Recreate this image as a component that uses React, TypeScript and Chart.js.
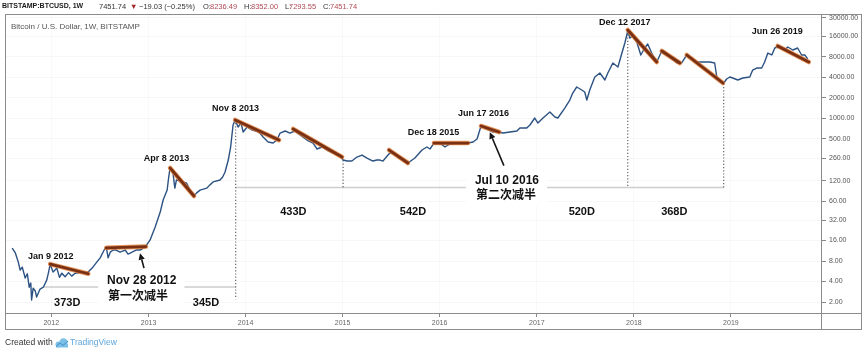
import React, { useEffect, useRef } from "react";
import { Chart, registerables } from "chart.js";

Chart.register(...registerables);

const FONT = '"Liberation Sans", Arial, "Noto Sans CJK SC", sans-serif';

// ---- weekly BTC/USD closes ----
const weeks: string[] = [
  "2011-08-07","2011-08-19","2011-08-30","2011-09-06","2011-09-14","2011-09-25","2011-10-03","2011-10-10",
  "2011-10-16","2011-10-19","2011-10-25","2011-11-02","2011-11-07","2011-11-15","2011-11-20","2011-12-02",
  "2011-12-15","2011-12-22","2011-12-28","2012-01-08","2012-01-22","2012-02-01","2012-02-10","2012-02-22",
  "2012-03-06","2012-03-18","2012-03-31","2012-04-19","2012-05-08","2012-05-19","2012-06-03","2012-06-18",
  "2012-07-03","2012-07-18","2012-07-26","2012-08-02","2012-08-10","2012-08-21","2012-09-01","2012-09-16",
  "2012-10-05","2012-10-16","2012-10-31","2012-11-15","2012-11-30","2012-12-19","2013-01-07","2013-01-26",
  "2013-02-14","2013-02-25","2013-03-12","2013-03-18","2013-03-23","2013-04-03","2013-04-10","2013-04-16",
  "2013-05-05","2013-05-24","2013-06-06","2013-06-21","2013-07-01","2013-07-14","2013-08-08","2013-08-20",
  "2013-09-01","2013-09-27","2013-10-07","2013-10-16","2013-10-28","2013-11-06","2013-11-15","2013-11-23",
  "2013-12-04","2013-12-15","2013-12-23","2014-01-07","2014-01-25","2014-02-10","2014-02-24","2014-03-08",
  "2014-03-27","2014-04-15","2014-04-29","2014-05-11","2014-05-30","2014-06-17","2014-07-06","2014-07-25",
  "2014-08-20","2014-09-12","2014-09-27","2014-10-16","2014-11-03","2014-11-26","2014-12-22","2015-01-03",
  "2015-01-18","2015-02-05","2015-02-24","2015-03-15","2015-04-03","2015-04-25","2015-05-10","2015-05-22",
  "2015-06-02","2015-06-25","2015-07-10","2015-07-24","2015-08-12","2015-08-25","2015-09-04","2015-09-30",
  "2015-10-27","2015-11-14","2015-11-26","2015-12-11","2016-01-02","2016-01-21","2016-02-09","2016-03-06",
  "2016-03-29","2016-04-17","2016-05-06","2016-05-21","2016-06-05","2016-06-27","2016-07-20","2016-08-12",
  "2016-08-27","2016-09-22","2016-10-18","2016-10-29","2016-11-24","2016-12-06","2016-12-24","2017-01-05",
  "2017-01-24","2017-02-19","2017-03-10","2017-03-21","2017-04-16","2017-05-05","2017-05-16","2017-05-31",
  "2017-06-19","2017-06-30","2017-07-08","2017-07-19","2017-08-07","2017-08-26","2017-09-14","2017-09-25",
  "2017-10-14","2017-11-02","2017-11-17","2017-11-28","2017-12-09","2017-12-17","2017-12-28","2018-01-12",
  "2018-01-27","2018-02-11","2018-02-22","2018-03-09","2018-03-28","2018-04-16","2018-04-27","2018-05-16",
  "2018-06-12","2018-06-30","2018-07-19","2018-08-07","2018-08-26","2018-09-14","2018-10-14","2018-11-01",
  "2018-11-09","2018-11-20","2018-12-05","2018-12-16","2018-12-28","2019-01-08","2019-01-27","2019-02-15",
  "2019-03-13","2019-03-24","2019-04-08","2019-04-27","2019-05-08","2019-05-20","2019-06-04","2019-06-15",
  "2019-06-26","2019-07-11","2019-07-22","2019-08-03","2019-08-22","2019-09-09","2019-09-24","2019-10-06",
  "2019-10-17"
];
const closes: number[] = [
  12.4, 10.5, 7.7, 5.9, 6.5, 4.5, 5.2, 3.3,
  3.8, 2.14, 3.2, 2.9, 2.37, 2.8, 3.1, 3.3,
  4.2, 5.5, 7.2, 5.5, 6.3, 4.6, 5.3, 4.7,
  5.4, 4.8, 5.3, 5.4, 5.5, 5.5, 6.3, 7.5,
  8.9, 11.6, 12.8, 8.9, 10.8, 11.6, 11.6, 10.8,
  11.6, 10.1, 10.8, 11.6, 11.6, 12.8, 16.3, 25.3,
  41.9, 63, 88, 137, 186, 157, 94, 124,
  116, 112, 88, 72, 80, 88, 94, 105,
  116, 124, 137, 162, 243, 378, 795, 941,
  743, 850, 627, 743, 671, 649, 606, 530,
  447, 432, 478, 606, 649, 606, 649, 566,
  478, 432, 353, 378, 341, 308, 288, 243,
  235, 235, 269, 288, 260, 235, 243, 243,
  235, 300, 319, 288, 255, 227, 220, 260,
  341, 378, 353, 432, 432, 378, 418, 432,
  432, 432, 447, 495, 768, 694, 627, 627,
  606, 627, 649, 718, 718, 795, 1007, 850,
  1007, 1233, 1041, 1007, 1411, 1850, 2344, 2873,
  2594, 2426, 1850, 2594, 4028, 4612, 3638, 4612,
  6468, 5647, 9064, 12714, 19087, 15060, 16116, 13154,
  8476, 10734, 12286, 9064, 6688, 9704, 9378, 7920,
  6468, 6468, 8476, 7654, 6688, 6688, 6688, 6468,
  4028, 3638, 3288, 3764, 4028, 3896, 3638, 3896,
  4028, 5102, 5460, 5460, 6688, 9064, 8476, 10734,
  11104, 10734, 10036, 11104, 10036, 10734, 8476, 8476,
  7451.74
];

// ---- brown trend lines ----
const trendStart: string[] = ["2011-12-28","2012-07-26","2013-03-23","2013-11-23","2014-06-29","2015-06-25","2015-12-11","2016-06-05","2017-12-09","2018-04-16","2018-07-19","2019-06-26"];
const trendStartPrice: number[] = [7.2, 12.5, 186, 941, 694, 341, 432, 768, 19733, 9704, 8476, 11490];
const trendEnd: string[] = ["2012-05-19","2012-12-22","2013-06-21","2014-05-07","2014-12-30","2015-09-04","2016-04-17","2016-08-12","2018-03-28","2018-06-23","2018-12-02","2019-10-21"];
const trendEndPrice: number[] = [5.2, 13.0, 72, 478, 269, 220, 432, 627, 6688, 6468, 3288, 6688];

// ---- dotted verticals and gray horizontal measures ----
const vLineDates: string[] = ["2013-11-25", "2015-01-03", "2017-12-09", "2018-12-05"];
const vLineTop: number[] = [850, 240, 19000, 3200];
const vLineBottom: number[] = [2.2, 96, 96, 96];
const hLineFrom: string[] = ["2011-12-02", "2013-11-25"];
const hLineTo: string[] = ["2013-11-25", "2018-12-05"];
const hLinePrice: number[] = [3.32, 96];

// ---- text annotations ----
const dateLabels: string[] = ["Jan 9 2012", "Apr 8 2013", "Nov 8 2013", "Dec 18 2015", "Jun 17 2016", "Dec 12 2017", "Jun 26 2019"];
const dateLabelAt: string[] = ["2011-12-30", "2013-03-10", "2013-11-24", "2015-12-09", "2016-06-14", "2017-11-28", "2019-06-24"];
const dateLabelPrice: number[] = [9.2, 260, 1365, 627, 1153, 25000, 18450];

const dayLabels: string[] = ["373D", "345D", "433D", "542D", "520D", "368D"];
const dayLabelAt: string[] = ["2012-03-01", "2013-08-05", "2014-06-30", "2015-09-23", "2017-06-19", "2018-06-02"];
const dayLabelPrice: number[] = [1.93, 1.93, 42, 42, 42, 42];

const halvingTitles: string[] = ["Nov 28 2012", "Jul 10 2016"];
const halvingSub: string[] = ["第一次减半", "第二次减半"];
const halvingAt: string[] = ["2012-07-29", "2016-05-13"];
const halvingTitlePrice: number[] = [4.07, 119.6];
const halvingSubPrice: number[] = [2.37, 72];

const arrowFrom: string[] = ["2012-12-15", "2016-08-30"];
const arrowFromPrice: number[] = [6.3, 201];
const arrowTo: string[] = ["2012-11-30", "2016-07-08"];
const arrowToPrice: number[] = [10.4, 621];

// ---- axes ----
const yearTicks: number[] = [2012, 2013, 2014, 2015, 2016, 2017, 2018, 2019];
const priceTicks: number[] = [2, 4, 8, 16, 32, 60, 120, 260, 500, 1000, 2000, 4000, 8000, 16000, 30000];
const X_MIN = "2011-07-11";
const X_MAX = "2019-12-06";
const Y_MIN = 1.38;
const Y_MAX = 32768;

const toT = (s: string) => Date.parse(s + "T00:00:00Z");

const segments = (from: string[], fromV: number[], to: string[], toV: number[]) =>
  from.flatMap((d, i) => [
    { x: toT(d), y: fromV[i] },
    { x: toT(to[i]), y: toV[i] },
    { x: toT(to[i]), y: null as any },
  ]);

const decor = {
  id: "decor",
  beforeDraw(chart: any) {
    const ctx = chart.ctx;
    ctx.save();
    ctx.fillStyle = "#ffffff";
    ctx.fillRect(0, 0, chart.width, chart.height);
    ctx.restore();
  },
  afterDatasetsDraw(chart: any) {
    const ctx = chart.ctx;
    const xs = chart.scales.x;
    const ys = chart.scales.y;
    const X = (d: string) => xs.getPixelForValue(toT(d));
    const Y = (v: number) => ys.getPixelForValue(v);
    ctx.save();

    // halving notes with white background
    ctx.font = `bold 12px ${FONT}`;
    ctx.textBaseline = "middle";
    ctx.textAlign = "left";
    halvingTitles.forEach((t, i) => {
      const left = X(halvingAt[i]);
      const y1 = Y(halvingTitlePrice[i]);
      const y2 = Y(halvingSubPrice[i]);
      const w = Math.max(ctx.measureText(t).width, ctx.measureText(halvingSub[i]).width);
      ctx.fillStyle = "#ffffff";
      ctx.fillRect(left - 9, y1 - 11, w + 17, y2 - y1 + 21);
      ctx.fillStyle = "#111111";
      ctx.fillText(t, left, y1);
      ctx.fillText(halvingSub[i], left + 1, y2);
    });

    // arrows
    ctx.strokeStyle = "#161616";
    ctx.fillStyle = "#161616";
    ctx.lineWidth = 1.6;
    arrowFrom.forEach((d, i) => {
      const x1 = X(d), y1 = Y(arrowFromPrice[i]);
      const x2 = X(arrowTo[i]), y2 = Y(arrowToPrice[i]);
      const a = Math.atan2(y2 - y1, x2 - x1);
      const L = 6.5, W = 3.2;
      const bx = x2 - L * Math.cos(a), by = y2 - L * Math.sin(a);
      ctx.beginPath();
      ctx.moveTo(x1, y1);
      ctx.lineTo(bx, by);
      ctx.stroke();
      ctx.beginPath();
      ctx.moveTo(x2, y2);
      ctx.lineTo(bx + W * Math.sin(a), by - W * Math.cos(a));
      ctx.lineTo(bx - W * Math.sin(a), by + W * Math.cos(a));
      ctx.closePath();
      ctx.fill();
    });

    // date labels
    ctx.fillStyle = "#111111";
    ctx.textAlign = "center";
    ctx.font = `bold 9px ${FONT}`;
    dateLabels.forEach((t, i) => ctx.fillText(t, X(dateLabelAt[i]), Y(dateLabelPrice[i])));

    // day-count labels
    ctx.font = `bold 11px ${FONT}`;
    dayLabels.forEach((t, i) => ctx.fillText(t, X(dayLabelAt[i]), Y(dayLabelPrice[i])));

    ctx.restore();
  },
  afterDraw(chart: any) {
    const ctx = chart.ctx;
    const ca = chart.chartArea;
    ctx.save();
    // frame
    ctx.strokeStyle = "#8c8c8c";
    ctx.lineWidth = 1;
    ctx.strokeRect(5.5, 14.5, 856, 315);
    ctx.beginPath();
    ctx.moveTo(5, Math.round(ca.bottom) + 0.5);
    ctx.lineTo(862, Math.round(ca.bottom) + 0.5);
    ctx.moveTo(Math.round(ca.right) + 0.5, 14);
    ctx.lineTo(Math.round(ca.right) + 0.5, 330);
    ctx.stroke();

    // header line
    ctx.textBaseline = "middle";
    ctx.textAlign = "left";
    const hy = 6.5;
    ctx.font = `bold 7px ${FONT}`;
    ctx.fillStyle = "#1a1a1a";
    ctx.fillText("BITSTAMP:BTCUSD, 1W", 2, hy);
    const parts: [string, number, string][] = [
      ["7451.74", 99, "#333333"],
      ["▼", 130, "#a3262a"],
      ["\u221219.03 (\u22120.25%)", 139, "#333333"],
      ["O:", 203, "#333333"],
      ["8236.49", 210, "#b04a55"],
      ["H:", 244, "#333333"],
      ["8352.00", 251, "#b04a55"],
      ["L:", 285, "#333333"],
      ["7293.55", 289, "#b04a55"],
      ["C:", 323, "#333333"],
      ["7451.74", 330, "#b04a55"],
    ];
    ctx.font = `7.5px ${FONT}`;
    parts.forEach(([t, x, c]) => {
      ctx.fillStyle = c;
      ctx.fillText(t, x, hy);
    });

    // subtitle
    ctx.font = `8px ${FONT}`;
    ctx.fillStyle = "#555555";
    ctx.fillText("Bitcoin / U.S. Dollar, 1W, BITSTAMP", 11, 27);

    // footer
    ctx.font = `8.5px ${FONT}`;
    ctx.fillStyle = "#333333";
    ctx.fillText("Created with", 5, 343);
    ctx.fillStyle = "#7cc0e8";
    ctx.beginPath();
    ctx.arc(58.5, 344.5, 3, 0, Math.PI * 2);
    ctx.arc(63.5, 342.5, 4.2, 0, Math.PI * 2);
    ctx.fill();
    ctx.fillRect(56, 344, 12, 3.5);
    ctx.strokeStyle = "#3f8fc6";
    ctx.lineWidth = 1;
    ctx.beginPath();
    ctx.moveTo(56, 346.5);
    ctx.lineTo(60, 343);
    ctx.lineTo(63, 345.5);
    ctx.lineTo(68, 341);
    ctx.stroke();
    ctx.fillStyle = "#5ea6dc";
    ctx.fillText("TradingView", 70, 343);
    ctx.restore();
  },
};

export default function App() {
  const ref = useRef<HTMLCanvasElement>(null);
  useEffect(() => {
    const canvas = ref.current!;
    const chart = new Chart(canvas, {
      type: "line",
      data: {
        datasets: [
          {
            label: "trend",
            data: segments(trendStart, trendStartPrice, trendEnd, trendEndPrice),
            borderColor: "#7a3012",
            borderWidth: 2.8,
            pointRadius: 0,
            spanGaps: false,
            order: 0,
            borderCapStyle: "round",
          },
          {
            label: "trendGlow",
            data: segments(trendStart, trendStartPrice, trendEnd, trendEndPrice),
            borderColor: "rgba(222,122,52,0.8)",
            borderWidth: 4.6,
            pointRadius: 0,
            spanGaps: false,
            order: 1,
            borderCapStyle: "round",
          },
          {
            label: "BTCUSD",
            data: weeks.map((w, i) => ({ x: toT(w), y: closes[i] })),
            borderColor: "#2c5283",
            borderWidth: 1.4,
            pointRadius: 0,
            tension: 0,
            order: 2,
            borderJoinStyle: "round",
          },
          {
            label: "vlines",
            data: segments(vLineDates, vLineTop, vLineDates, vLineBottom),
            borderColor: "#555555",
            borderWidth: 1.1,
            borderDash: [1.2, 2],
            pointRadius: 0,
            spanGaps: false,
            order: 3,
          },
          {
            label: "hlines",
            data: segments(hLineFrom, hLinePrice, hLineTo, hLinePrice),
            borderColor: "#cdcdcd",
            borderWidth: 1.6,
            pointRadius: 0,
            spanGaps: false,
            order: 4,
          },
        ] as any,
      },
      options: {
        responsive: false,
        devicePixelRatio: 1,
        animation: false,
        events: [],
        layout: { padding: { left: 5, top: 15, right: 0, bottom: 0 } },
        plugins: { legend: { display: false }, tooltip: { enabled: false }, title: { display: false } },
        scales: {
          x: {
            type: "linear",
            position: "bottom",
            min: toT(X_MIN),
            max: toT(X_MAX),
            afterBuildTicks: (s: any) => {
              s.ticks = yearTicks.map((y) => ({ value: Date.UTC(y, 0, 1) }));
            },
            afterFit: (s: any) => {
              s.height = 39;
            },
            ticks: {
              autoSkip: false,
              maxRotation: 0,
              padding: 2,
              color: "#666666",
              font: { family: FONT, size: 7 },
              callback: (v: any) => String(new Date(Number(v)).getUTCFullYear()),
            },
            grid: { color: "rgba(0,0,0,0.025)", tickLength: 4, tickColor: "#888888" },
            border: { display: false },
          },
          y: {
            type: "logarithmic",
            position: "right",
            min: Y_MIN,
            max: Y_MAX,
            afterBuildTicks: (s: any) => {
              s.ticks = priceTicks.map((v) => ({ value: v }));
            },
            afterFit: (s: any) => {
              s.width = 43;
            },
            ticks: {
              autoSkip: false,
              padding: 3,
              color: "#555555",
              font: { family: FONT, size: 7 },
              callback: (v: any) => Number(v).toFixed(2),
            },
            grid: { color: "rgba(0,0,0,0.03)", tickLength: 5, tickColor: "#888888" },
            border: { display: false },
          },
        },
      } as any,
      plugins: [decor],
    });
    return () => chart.destroy();
  }, []);
  return (
    <div style={{ position: "fixed", left: 0, top: 0, width: 864, height: 352, background: "#fff" }}>
      <canvas ref={ref} width={864} height={352} style={{ display: "block", width: 864, height: 352 }} />
    </div>
  );
}
